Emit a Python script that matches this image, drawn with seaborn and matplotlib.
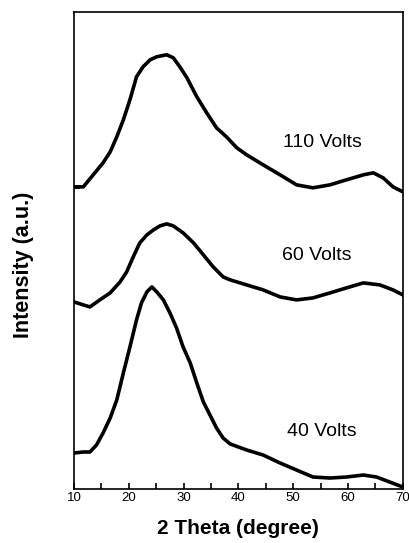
import matplotlib
matplotlib.use("Agg")
import matplotlib.pyplot as plt
import seaborn as sns
import pandas as pd
from matplotlib.ticker import MultipleLocator, FixedLocator

sns.set_theme(style="white")
plt.rcParams['font.family'] = ['Liberation Sans', 'DejaVu Sans']
plt.rcParams['text.color'] = 'black'
plt.rcParams['axes.labelcolor'] = 'black'
plt.rcParams['xtick.color'] = 'black'
plt.rcParams['ytick.color'] = 'black'

# 2-theta positions (degree) and intensities (a.u.)
theta_110 = [10, 11.7, 13.5, 15.3, 16.6, 17.8, 19.0, 20.2, 21.4, 22.6, 23.9, 25.1, 26.9,
             28.1, 29.3, 30.6, 32.4, 34.2, 36.0, 37.8, 39.7, 41.5, 44.5, 47.6, 50.6,
             53.6, 56.7, 59.7, 62.8, 64.6, 66.4, 68.2, 70]
int_110 = [302, 302, 314, 326, 337, 352, 369, 389, 412, 422, 429, 432, 434,
           431, 422, 411, 392, 376, 361, 352, 341, 334, 324, 314, 304,
           301, 304, 309, 314, 316, 311, 302, 297]

theta_60 = [10, 11.7, 12.9, 14.7, 16.6, 18.4, 19.6, 20.8, 22.0, 23.3, 24.5, 25.7, 26.9,
            28.1, 29.9, 31.8, 33.6, 35.4, 37.2, 38.5, 41.5, 44.5, 47.6, 50.6, 53.6,
            56.7, 59.7, 62.8, 65.8, 68.2, 70]
int_60 = [187, 184, 182, 189, 196, 207, 217, 232, 246, 254, 259, 263, 265,
          263, 256, 246, 234, 222, 212, 209, 204, 199, 192, 189, 191,
          196, 201, 206, 204, 199, 194]

theta_40 = [10, 11.7, 12.9, 14.1, 15.3, 16.6, 17.8, 19.0, 20.2, 21.4, 22.3, 23.3, 24.2,
            25.1, 26.3, 27.5, 28.7, 29.9, 31.2, 32.4, 33.6, 34.8, 36.0, 37.2, 38.5,
            41.5, 44.5, 47.6, 50.6, 53.6, 56.7, 59.7, 62.8, 65.2, 67.6, 70]
int_40 = [36, 37, 37, 44, 56, 71, 89, 116, 142, 169, 186, 197, 202,
          197, 189, 176, 161, 142, 126, 106, 87, 74, 61, 51, 45,
          39, 34, 26, 19, 12, 11, 12, 14, 12, 7, 2]

labels = ["110 Volts", "60 Volts", "40 Volts"]
label_x = [55.4, 54.3, 55.2]
label_y = [346, 233, 57]

x_ticks = [10, 20, 30, 40, 50, 60, 70]
y_marks = [186, 301]

df = pd.concat([
    pd.DataFrame({"theta": theta_110, "intensity": int_110, "sample": labels[0]}),
    pd.DataFrame({"theta": theta_60, "intensity": int_60, "sample": labels[1]}),
    pd.DataFrame({"theta": theta_40, "intensity": int_40, "sample": labels[2]}),
])

fig = plt.figure(figsize=(4.09, 5.43), dpi=100)
ax = fig.add_axes([0.181, 0.0994, 0.804, 0.879])

sns.lineplot(data=df, x="theta", y="intensity", units="sample", estimator=None,
             color="black", linewidth=2.6, ax=ax, legend=False, sort=False)

for t, x, y in zip(labels, label_x, label_y):
    ax.text(x, y, t, ha="center", va="center", fontsize=14, color="black")

ax.set_xlim(10, 70)
ax.set_ylim(0, 477)
ax.xaxis.set_major_locator(FixedLocator(x_ticks))
ax.xaxis.set_minor_locator(MultipleLocator(5))
ax.set_xticklabels([str(v) for v in x_ticks])
ax.yaxis.set_major_locator(FixedLocator(y_marks))
ax.set_yticklabels([])
ax.tick_params(axis="x", which="both", direction="in", length=4, width=1.2,
               labelsize=9.5, pad=2, bottom=True, colors="black")
ax.tick_params(axis="y", which="both", direction="in", length=4, width=1.2,
               left=True)

for s in ax.spines.values():
    s.set_color("black")
    s.set_linewidth(1.2)
    s.set_visible(True)

ax.set_xlabel("2 Theta (degree)", fontsize=15, fontweight="bold", color="black")
ax.set_ylabel("Intensity (a.u.)", fontsize=15.5, fontweight="bold", color="black")
ax.xaxis.set_label_coords(0.498, -0.062)
ax.yaxis.set_label_coords(-0.122, 0.47)

fig.savefig("out.png", dpi=100)
